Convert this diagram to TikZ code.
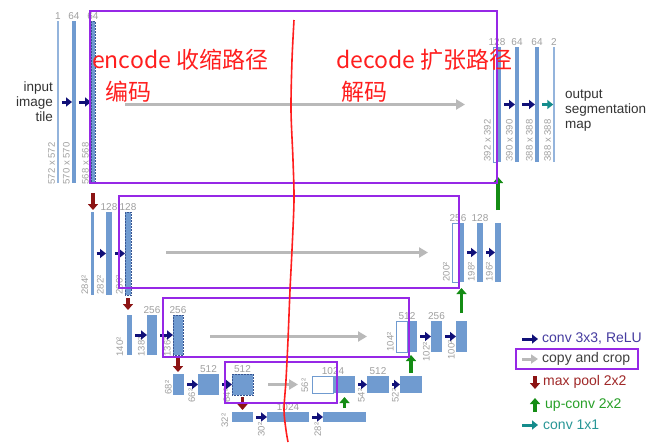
\documentclass[tikz,border=0pt]{standalone}
\usepackage{fontspec}
\setmainfont{Liberation Sans}
\newfontfamily\cjk{Noto Sans CJK SC}
\usepackage{tikz}
\usetikzlibrary{positioning, arrows.meta}

\definecolor{barblue}{RGB}{112,155,208}
\definecolor{bardark}{RGB}{55,85,145}
\definecolor{numgray}{RGB}{160,160,160}
\definecolor{convblue}{RGB}{16,16,120}
\definecolor{copygray}{RGB}{185,185,185}
\definecolor{poolred}{RGB}{140,20,20}
\definecolor{upgreen}{RGB}{20,140,20}
\definecolor{outteal}{RGB}{20,140,140}
\definecolor{markpurple}{RGB}{150,40,230}
\definecolor{markred}{RGB}{255,30,30}

\tikzset{
	bar/.style={rectangle, fill=barblue, draw=none, inner sep=0pt, outer sep=0pt},
	copied/.style={bar, draw=bardark, densely dotted, line width=0.5pt},
	cropped/.style={rectangle, fill=white, draw=barblue, line width=0.8pt, inner sep=0pt, outer sep=0pt},
	num/.style={text=numgray, font=\fontsize{10}{10}\selectfont, inner sep=0.5pt},
	dim/.style={text=numgray, font=\fontsize{9.5}{9.5}\selectfont, rotate=90, inner sep=0.5pt, anchor=south west},
	convarrow/.style={draw=convblue, line width=3pt, -{Triangle[length=6pt,width=9pt]}, shorten <=3pt},
	copyarrow/.style={draw=copygray, line width=3pt, -{Triangle[length=9pt,width=10pt]}},
	poolarrow/.style={draw=poolred, line width=3.5pt, -{Triangle[length=6pt,width=10pt]}},
	uparrow/.style={draw=upgreen, line width=3.5pt, -{Triangle[length=6pt,width=10pt]}},
	outarrow/.style={draw=outteal, line width=3pt, -{Triangle[length=6pt,width=9pt]}},
	markbox/.style={draw=markpurple, line width=1.8pt},
	note/.style={text=markred, font=\cjk\fontsize{23}{23}\selectfont, inner sep=0pt, anchor=west},
	side/.style={text=black!80, font=\fontsize{13.5}{15}\selectfont, inner sep=0pt},
	keytext/.style={font=\fontsize{14}{14}\selectfont, anchor=west, inner sep=0pt}
}

\begin{document}
\begin{tikzpicture}[x=1pt, y=-1pt]
		\fill[white] (0,0) rectangle (661,445);
		\useasboundingbox (0,0) rectangle (661,445);
		
		% Level 1
		\node[bar, fill=barblue!75, minimum width=1.5pt, minimum height=162pt] (l1a) at (58,102) {};
		\node[bar, minimum width=4pt, minimum height=162pt] (l1b) at (74,102) {};
		\node[copied, minimum width=4pt, minimum height=162pt] (l1c) at (93,102) {};
		\node[cropped, minimum width=4pt, minimum height=115pt] (r1w) at (495,104.5) {};
		\node[bar, minimum width=4pt, minimum height=115pt] (r1a) at (499,104.5) {};
		\node[bar, minimum width=4pt, minimum height=115pt] (r1b) at (517,104.5) {};
		\node[bar, minimum width=4pt, minimum height=115pt] (r1c) at (537,104.5) {};
		\node[bar, fill=barblue!75, minimum width=1.5pt, minimum height=115pt] (r1d) at (554,104.5) {};
		
		% Level 2
		\node[bar, minimum width=3pt, minimum height=83pt] (l2a) at (92,253.5) {};
		\node[bar, minimum width=6pt, minimum height=83pt] (l2b) at (109,253.5) {};
		\node[copied, minimum width=6pt, minimum height=83pt] (l2c) at (128,253.5) {};
		\node[cropped, minimum width=6pt, minimum height=59pt] (r2w) at (455,252.5) {};
		\node[bar, minimum width=6pt, minimum height=59pt] (r2a) at (461,252.5) {};
		\node[bar, minimum width=6pt, minimum height=59pt] (r2b) at (480,252.5) {};
		\node[bar, minimum width=6pt, minimum height=59pt] (r2c) at (498,252.5) {};
		
		% Level 3
		\node[bar, minimum width=5pt, minimum height=40pt] (l3a) at (129.5,335) {};
		\node[bar, minimum width=10pt, minimum height=40pt] (l3b) at (152,335) {};
		\node[copied, minimum width=10pt, minimum height=40pt] (l3c) at (178,335) {};
		\node[cropped, minimum width=11pt, minimum height=31pt] (r3w) at (401.5,336.5) {};
		\node[bar, minimum width=10pt, minimum height=31pt] (r3a) at (412,336.5) {};
		\node[bar, minimum width=11pt, minimum height=31pt] (r3b) at (436.5,336.5) {};
		\node[bar, minimum width=11pt, minimum height=31pt] (r3c) at (461.5,336.5) {};
		
		% Level 4
		\node[bar, minimum width=11pt, minimum height=21pt] (l4a) at (178.5,384.5) {};
		\node[bar, minimum width=21pt, minimum height=21pt] (l4b) at (208.5,384.5) {};
		\node[copied, minimum width=21pt, minimum height=21pt] (l4c) at (242.5,384.5) {};
		\node[cropped, minimum width=21pt, minimum height=17pt] (r4w) at (322.5,384.5) {};
		\node[bar, minimum width=22pt, minimum height=17pt] (r4a) at (344,384.5) {};
		\node[bar, minimum width=22pt, minimum height=17pt] (r4b) at (378,384.5) {};
		\node[bar, minimum width=22pt, minimum height=17pt] (r4c) at (411,384.5) {};
		
		% Bottom
		\node[bar, minimum width=21pt, minimum height=10pt] (b1) at (242.5,417) {};
		\node[bar, minimum width=42pt, minimum height=10pt] (b2) at (288,417) {};
		\node[bar, minimum width=43pt, minimum height=10pt] (b3) at (344.5,417) {};
		
		% Channel numbers
		\node[num, above=1pt of l1a] (n1a) {1};
		\node[num, above=1pt of l1b] (n1b) {64};
		\node[num, above=1pt of l1c] (n1c) {64};
		\node[num, above=1pt of r1w.north east] (n1w) {128};
		\node[num, above=1pt of r1b] (n1b2) {64};
		\node[num, above=1pt of r1c] (n1c2) {64};
		\node[num, above=1pt of r1d] (n1d2) {2};
		\node[num, above=1pt of l2b] (n2b) {128};
		\node[num, above=1pt of l2c] (n2c) {128};
		\node[num, above=1pt of r2w.north east] (n2w) {256};
		\node[num, above=1pt of r2b] (n2b2) {128};
		\node[num, above=1pt of l3b] (n3b) {256};
		\node[num, above=1pt of l3c] (n3c) {256};
		\node[num, above=1pt of r3w.north east] (n3w) {512};
		\node[num, above=1pt of r3b] (n3b2) {256};
		\node[num, above=1pt of l4b] (n4b) {512};
		\node[num, above=1pt of l4c] (n4c) {512};
		\node[num, above=1pt of r4w.north east] (n4w) {1024};
		\node[num, above=1pt of r4b] (n4b2) {512};
		\node[num, above=1pt of b2] (nb2) {1024};
		
		% Sizes
		\node[dim] (d1a) at ([xshift=-1.5pt,yshift=-2pt]l1a.south west) {572 x 572};
		\node[dim] (d1b) at ([xshift=-1.5pt,yshift=-2pt]l1b.south west) {570 x 570};
		\node[dim] (d1c) at ([xshift=-1.5pt,yshift=-2pt]l1c.south west) {568 x 568};
		\node[dim] (d1w) at ([xshift=-1.5pt]r1w.south west) {392 x 392};
		\node[dim] (d1b2) at ([xshift=-1.5pt]r1b.south west) {390 x 390};
		\node[dim] (d1c2) at ([xshift=-1.5pt]r1c.south west) {388 x 388};
		\node[dim] (d1d2) at ([xshift=-1.5pt]r1d.south west) {388 x 388};
		\node[dim] (d2a) at ([xshift=-1.5pt]l2a.south west) {284²};
		\node[dim] (d2b) at ([xshift=-1.5pt]l2b.south west) {282²};
		\node[dim] (d2c) at ([xshift=-1.5pt]l2c.south west) {280²};
		\node[dim] (d2w) at ([xshift=-1.5pt]r2w.south west) {200²};
		\node[dim] (d2b2) at ([xshift=-1.5pt]r2b.south west) {198²};
		\node[dim] (d2c2) at ([xshift=-1.5pt]r2c.south west) {196²};
		\node[dim] (d3a) at ([xshift=-3pt,yshift=-2pt]l3a.south west) {140²};
		\node[dim] (d3b) at ([xshift=-1.5pt,yshift=-2pt]l3b.south west) {138²};
		\node[dim] (d3c) at ([xshift=-1.5pt,yshift=-2pt]l3c.south west) {136²};
		\node[dim] (d3w) at ([xshift=-1.5pt]r3w.south west) {104²};
		\node[dim] (d3b2) at ([xshift=-0.5pt,yshift=-10pt]r3b.south west) {102²};
		\node[dim] (d3c2) at ([xshift=-0.5pt,yshift=-8pt]r3c.south west) {100²};
		\node[dim] (d4a) at ([xshift=-0.5pt]l4a.south west) {68²};
		\node[dim] (d4b) at ([xshift=-2pt,yshift=-8pt]l4b.south west) {66²};
		\node[dim] (d4c) at ([xshift=-1pt,yshift=-8pt]l4c.south west) {64²};
		\node[dim] (d4w) at ([xshift=-3pt]r4w.south west) {56²};
		\node[dim] (d4b2) at ([xshift=-1.5pt,yshift=-10pt]r4b.south west) {54²};
		\node[dim] (d4c2) at ([xshift=-0.5pt,yshift=-10pt]r4c.south west) {52²};
		\node[dim] (db1) at ([xshift=-3pt,yshift=-6pt]b1.south west) {32²};
		\node[dim] (db2) at ([xshift=-1.5pt,yshift=-15pt]b2.south west) {30²};
		\node[dim] (db3) at ([xshift=-1pt,yshift=-15pt]b3.south west) {28²};
		
		% Side texts
		\node[side, align=right, anchor=east] (input) at (53,102) {input\\image\\tile};
		\node[side, align=left, anchor=west] (output) at (565,111) {output\\segmentation\\map};
		
		% Conv arrows
		\draw[convarrow] (l1a) -- (l1b);
		\draw[convarrow] (l1b) -- (l1c);
		\draw[convarrow] (r1a) -- (r1b);
		\draw[convarrow] (r1b) -- (r1c);
		\draw[outarrow, shorten <=3pt] (r1c) -- (r1d);
		\draw[convarrow] (l2a) -- (l2b);
		\draw[convarrow] (l2b) -- (l2c);
		\draw[convarrow] (r2a) -- (r2b);
		\draw[convarrow] (r2b) -- (r2c);
		\draw[convarrow] (l3a) -- (l3b);
		\draw[convarrow] (l3b) -- (l3c);
		\draw[convarrow] (r3a) -- (r3b);
		\draw[convarrow] (r3b) -- (r3c);
		\draw[convarrow] (l4a) -- (l4b);
		\draw[convarrow] (l4b) -- (l4c);
		\draw[convarrow] (r4a) -- (r4b);
		\draw[convarrow] (r4b) -- (r4c);
		\draw[convarrow] (b1) -- (b2);
		\draw[convarrow] (b2) -- (b3);
		
		% Copy and crop arrows
		\draw[copyarrow] ([xshift=30pt]l1c.east |- r1w.west) -- ([xshift=-28pt]r1w.west);
		\draw[copyarrow] ([xshift=35pt]l2c.east |- r2w.west) -- ([xshift=-24pt]r2w.west);
		\draw[copyarrow] ([xshift=27pt]l3c.east |- r3w.west) -- ([xshift=-29pt]r3w.west);
		\draw[copyarrow] ([xshift=15pt]l4c.east) -- ([xshift=-14pt]r4w.west);
		
		% Max pool arrows
		\draw[poolarrow, shorten <=10pt, shorten >=2pt] (l1c.south) -- (l1c.south |- l2a.north);
		\draw[poolarrow, shorten <=3pt, shorten >=5pt] (l2c.south) -- (l2c.south |- l3a.north);
		\draw[poolarrow, shorten <=2pt, shorten >=2pt] (l3c.south) -- (l3c.south |- l4a.north);
		\draw[poolarrow, shorten <=2pt, shorten >=2pt] (l4c.south) -- (l4c.south |- b1.north);
		
		% Up-conv arrows
		\draw[uparrow, shorten <=4pt, shorten >=4pt] (b3.north) -- (b3.north |- r4a.south);
		\draw[uparrow, shorten <=3pt, shorten >=3pt] (r4c.north) -- (r4c.north |- r3a.south);
		\draw[uparrow, shorten <=8pt, shorten >=6pt] (r3c.north) -- (r3c.north |- r2a.south);
		\draw[uparrow, shorten <=13pt, shorten >=15pt] (r2c.north) -- (r2c.north |- r1a.south);
		
		% Legend
		\node[keytext, text={rgb,255:red,70;green,60;blue,160}] (kconv) at (542,339) {conv 3x3, ReLU};
		\node[keytext, text=black!75] (kcopy) at (542,359) {copy and crop};
		\node[keytext, text={rgb,255:red,160;green,40;blue,40}] (kpool) at (543,382) {max pool 2x2};
		\node[keytext, text={rgb,255:red,40;green,160;blue,40}] (kup) at (545,405) {up-conv 2x2};
		\node[keytext, text={rgb,255:red,40;green,150;blue,150}] (kout) at (543,425) {conv 1x1};
		\draw[convarrow, shorten <=0pt] ([xshift=-20pt]kconv.west) -- ([xshift=-4pt]kconv.west);
		\draw[copyarrow, -{Triangle[length=7pt,width=9pt]}] ([xshift=-20pt]kcopy.west) -- ([xshift=-4pt]kcopy.west);
		\draw[poolarrow] ([xshift=-8pt,yshift=6pt]kpool.west) -- ([xshift=-8pt,yshift=-7pt]kpool.west);
		\draw[uparrow] ([xshift=-10pt,yshift=-7pt]kup.west) -- ([xshift=-10pt,yshift=7pt]kup.west);
		\draw[outarrow] ([xshift=-21pt]kout.west) -- ([xshift=-5pt]kout.west);
		
		% Marked boxes
		\draw[markbox] (90,11) rectangle (497,183);
		\draw[markbox] (119,196) rectangle (459,288);
		\draw[markbox] (163,298) rectangle (409,357);
		\draw[markbox] (225,362) rectangle (337,403);
		\draw[markbox] (516,349) rectangle (638,369);
		
		% Middle line
		\draw[markred, line width=1.6pt] plot[smooth] coordinates {(294,20) (292,60) (291,110) (293,160) (294,200) (292,250) (290,290) (288,340) (286,380) (284,410) (286,430) (288,442)};
		
		% Notes
		\node[note] (enc) at (92,60) {encode 收缩路径};
		\node[note] (encz) at (105,92) {编码};
		\node[note] (dec) at (336,60) {decode 扩张路径};
		\node[note] (decz) at (341,92) {解码};
	\end{tikzpicture}
\end{document}
